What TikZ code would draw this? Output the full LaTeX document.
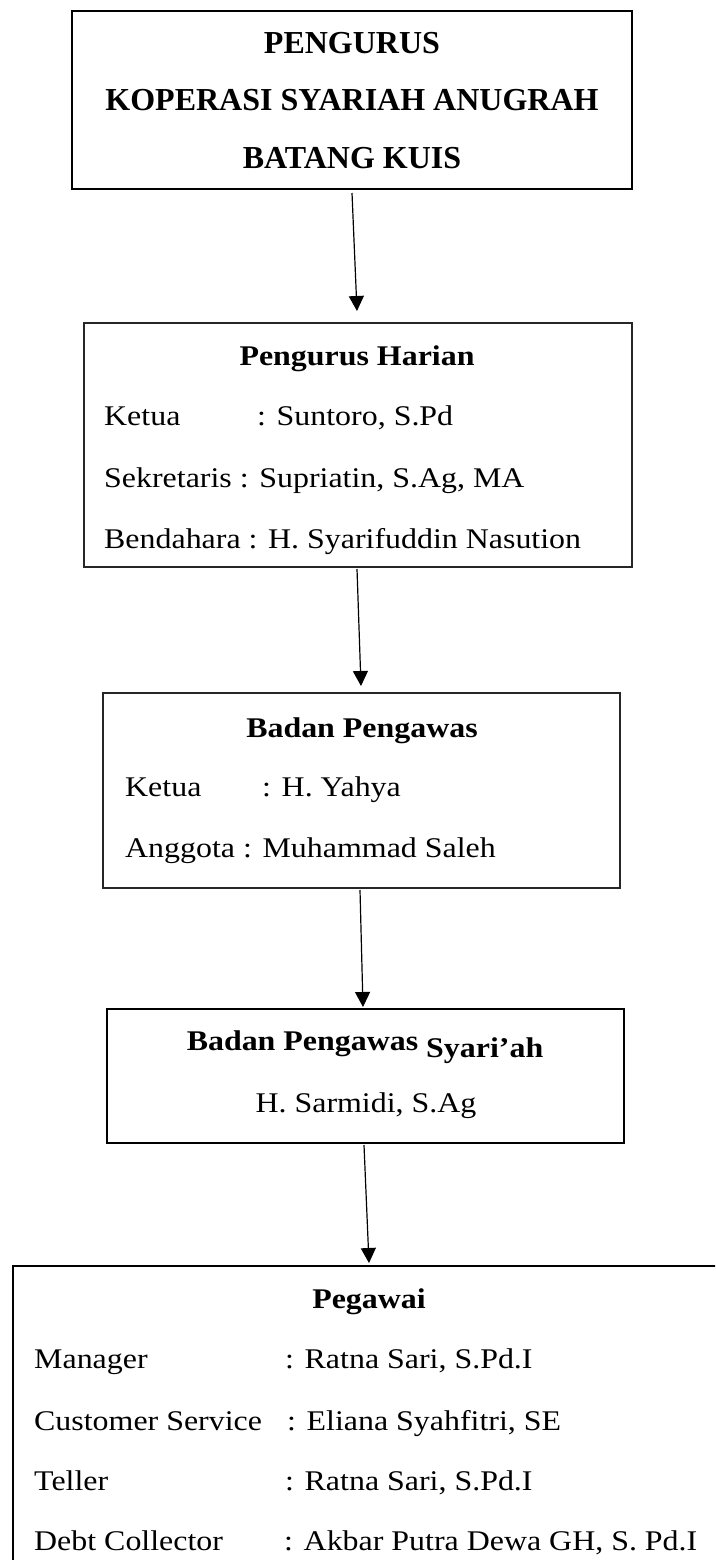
\documentclass[tikz,border=0pt]{standalone}
\usepackage{fontspec}
\setmainfont{Liberation Serif}
\newfontfamily\bodyfont{Liberation Serif}[FakeStretch=1.12]
\usetikzlibrary{arrows.meta}
\begin{document}
\begin{tikzpicture}[x=1pt,y=-1pt,
  frame/.style={draw=black!85, line width=1.3pt, inner sep=0pt},
  arr/.style={-{Triangle[length=15pt,width=15pt]}, line width=1.2pt},
  title/.style={inner sep=0pt, font=\fontsize{32}{38}\selectfont\bfseries},
  txt/.style={inner sep=0pt, font=\bodyfont\fontsize{28.5}{34}\selectfont},
  hd/.style={inner sep=0pt, font=\bodyfont\fontsize{28.5}{34}\selectfont\bfseries}]
\useasboundingbox (0,0) rectangle (715,1560);
\clip (0,0) rectangle (715,1560);
\fill[white] (0,0) rectangle (715,1560);

% boxes
\node[frame, draw=black, line width=2.5pt, minimum width=560pt, minimum height=178pt] (top) at (352,100) {};
\node[frame, minimum width=548pt, minimum height=244pt] (harian) at (358,445) {};
\node[frame, minimum width=517pt, minimum height=195pt] (pengawas) at (361.5,790.5) {};
\node[frame, draw=black, line width=1.5pt, minimum width=517pt, minimum height=134pt] (syariah) at (365.5,1076) {};
\node[frame, draw=black, minimum width=727pt, minimum height=334pt] (pegawai) at (376.5,1433) {};

% top box text
\node[title, anchor=base] (t1) at (352,54) {PENGURUS};
\node[title, anchor=base] (t2) at (352,111) {KOPERASI SYARIAH ANUGRAH};
\node[title, anchor=base] (t3) at (352,168) {BATANG KUIS};

% pengurus harian
\node[hd, anchor=base] (h0) at (357,365) {Pengurus Harian};
\node[txt, anchor=base west] (h1) at (104,425) {Ketua};
\node[txt, anchor=base west] (h1b) at (257,425) {: Suntoro, S.Pd};
\node[txt, anchor=base west] (h2) at (104,487) {Sekretaris : Supriatin, S.Ag, MA};
\node[txt, anchor=base west] (h3) at (104,548) {Bendahara : H. Syarifuddin Nasution};

% badan pengawas
\node[hd, anchor=base] (p0) at (362,737) {Badan Pengawas};
\node[txt, anchor=base west] (p1) at (125,796) {Ketua};
\node[txt, anchor=base west] (p1b) at (262,796) {: H. Yahya};
\node[txt, anchor=base west] (p2) at (125,857) {Anggota : Muhammad Saleh};

% badan pengawas syariah
\node[hd, anchor=base] (s0) at (365,1050) {Badan Pengawas \raisebox{-7pt}{Syari’ah}};
\node[txt, anchor=base] (s1) at (366,1112) {H. Sarmidi, S.Ag};

% pegawai
\node[hd, anchor=base] (g0) at (369,1308) {Pegawai};
\node[txt, anchor=base west] (g1) at (34,1368) {Manager};
\node[txt, anchor=base west] (g1b) at (285,1368) {: Ratna Sari, S.Pd.I};
\node[txt, anchor=base west] (g2) at (34,1430) {Customer Service};
\node[txt, anchor=base west] (g2b) at (287,1430) {: Eliana Syahfitri, SE};
\node[txt, anchor=base west] (g3) at (34,1490) {Teller};
\node[txt, anchor=base west] (g3b) at (285,1490) {: Ratna Sari, S.Pd.I};
\node[txt, anchor=base west] (g4) at (34,1550) {Debt Collector};
\node[txt, anchor=base west] (g4b) at (284,1550) {: Akbar Putra Dewa GH, S. Pd.I};

% arrows
\coordinate (a1s) at (352,193);
\coordinate (a1e) at (357,311);
\coordinate (a2s) at (357,569);
\coordinate (a2e) at (361,686);
\coordinate (a3s) at (360,890);
\coordinate (a3e) at (363,1007);
\coordinate (a4s) at (364,1145);
\coordinate (a4e) at (369,1263);
\draw[arr] (a1s) -- (a1e);
\draw[arr] (a2s) -- (a2e);
\draw[arr] (a3s) -- (a3e);
\draw[arr] (a4s) -- (a4e);
\end{tikzpicture}
\end{document}
